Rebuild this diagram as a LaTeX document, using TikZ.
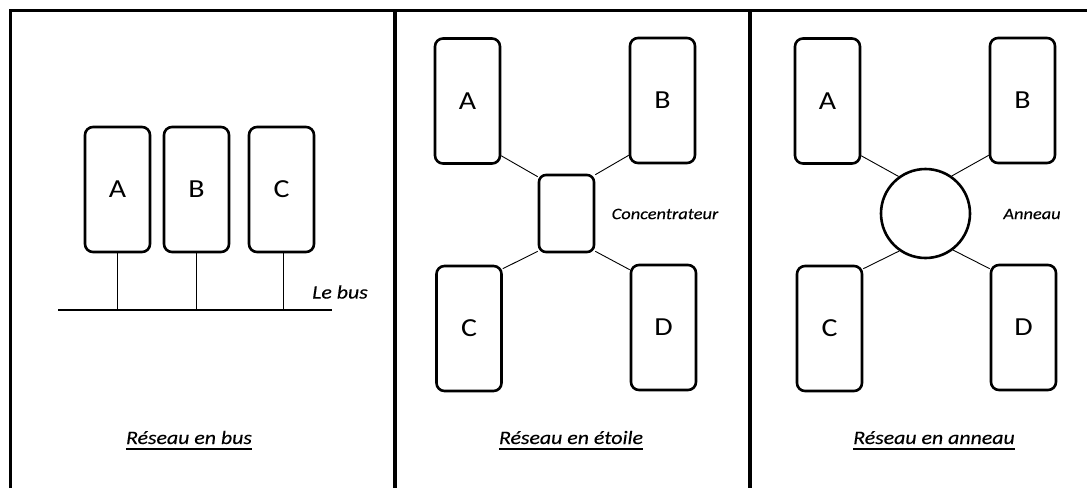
\documentclass[tikz,border=0pt]{standalone}
\usepackage{fontspec}
\setmainfont{Carlito}[FakeStretch=1.15,ItalicFeatures={FakeBold=0.2}]
\begin{document}
\begin{tikzpicture}[x=1pt,y=-1pt,
  host/.style={draw,rounded corners=8pt,line width=2.6pt,minimum width=65pt,minimum height=125pt,inner sep=0pt,font=\fontsize{26}{29}\selectfont},
  hubbox/.style={draw,rounded corners=7pt,line width=2.6pt,minimum width=55pt,minimum height=77pt,inner sep=0pt},
  ringnode/.style={draw,circle,line width=2.6pt,minimum size=89pt,inner sep=0pt},
  link/.style={line width=0.9pt},
  frame/.style={line width=3pt},
  divider/.style={line width=4pt},
  note/.style={font=\fontsize{16}{19}\itshape\selectfont,inner sep=0pt},
  title/.style={font=\fontsize{19}{22}\itshape\selectfont,inner sep=0pt,anchor=base},
  uline/.style={line width=1.3pt}]
\useasboundingbox (0,0) rectangle (1087,488);
% frame
\coordinate (fbl) at (10,488);
\coordinate (ftl) at (10,10);
\coordinate (ftr) at (1087,10);
\draw[frame] (fbl) -- (ftl) -- (ftr);
\coordinate (d1t) at (394.5,10);
\coordinate (d1b) at (394.5,488);
\coordinate (d2t) at (750,10);
\coordinate (d2b) at (750,488);
\draw[divider] (d1t) -- (d1b);
\draw[divider] (d2t) -- (d2b);
% panel 1: bus
\node[host] (A1) at (117.5,189.5) {A};
\node[host] (B1) at (196.5,189.5) {B};
\node[host] (C1) at (281.5,189.5) {C};
\coordinate (busL) at (58,310);
\coordinate (busR) at (332,310);
\draw[line width=1.3pt] (busL) -- (busR);
\draw[line width=1.8pt] (A1.south) -- (A1.south |- busL);
\draw[link] (B1.south) -- (B1.south |- busL);
\draw[link] ([xshift=1.5pt]C1.south) -- ([xshift=1.5pt]C1.south |- busL);
\node[font=\fontsize{19}{22}\itshape\selectfont,inner sep=0pt] (lebus) at (340,292) {Le bus};
\node[title] (t1) at (189,444) {Réseau en bus};
\draw[uline] ([yshift=-5pt]t1.base west) -- ([yshift=-5pt]t1.base east);
% panel 2: star
\node[host] (A2) at (467.5,101) {A};
\node[host] (B2) at (662.5,100.5) {B};
\node[host] (C2) at (469,328.5) {C};
\node[host] (D2) at (663.5,327.5) {D};
\node[hubbox] (hub) at (566.5,213.5) {};
\draw[link] ([yshift=9pt]A2.south east) -- ([yshift=-3pt]hub.north west);
\draw[link] ([yshift=9pt]B2.south west) -- ([yshift=-1pt]hub.north east);
\draw[link] ([yshift=-4pt]C2.north east) -- ([yshift=2pt]hub.south west);
\draw[link] ([yshift=-6pt]D2.north west) -- ([yshift=2pt]hub.south east);
\node[note] (conc) at (665,214) {Concentrateur};
\node[title] (t2) at (571,444) {Réseau en étoile};
\draw[uline] ([yshift=-5pt]t2.base west) -- ([yshift=-5pt]t2.base east);
% panel 3: ring
\node[host] (A3) at (827.5,101) {A};
\node[host] (B3) at (1022.5,100.5) {B};
\node[host] (C3) at (829.5,328.5) {C};
\node[host] (D3) at (1023.5,327.5) {D};
\node[ringnode] (ring) at (925.5,213.5) {};
\draw[link] ([yshift=9pt]A3.south east) -- (ring.126);
\draw[link] ([yshift=9pt]B3.south west) -- (ring.55);
\draw[link] ([yshift=-4pt]C3.north east) -- (ring.235);
\draw[link] ([yshift=-5pt]D3.north west) -- (ring.-53);
\node[note] (ann) at (1032,214) {Anneau};
\node[title] (t3) at (934,444) {Réseau en anneau};
\draw[uline] ([yshift=-5pt]t3.base west) -- ([yshift=-5pt]t3.base east);
\end{tikzpicture}
\end{document}
